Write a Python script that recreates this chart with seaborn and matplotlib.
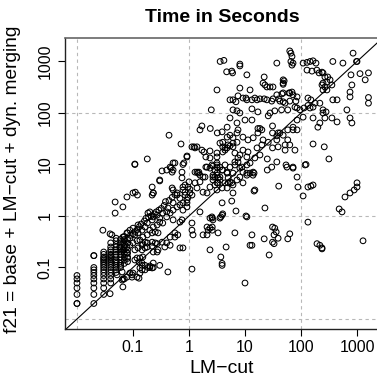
import pandas as pd
import seaborn as sns
import matplotlib.pyplot as plt

# run times in seconds: (LM-cut, f21)
# discrete columns for the very fast tasks (timer resolution 0.01 s)
col_x = [0.01, 0.02, 0.03, 0.04, 0.05, 0.06, 0.07, 0.08]
col_y = [
    [0.02, 0.02, 0.03, 0.04, 0.05, 0.06, 0.07],
    [0.02, 0.03, 0.04, 0.05, 0.06, 0.07, 0.08, 0.09, 0.1, 0.17],
    [0.03, 0.04, 0.05, 0.06, 0.07, 0.08, 0.09, 0.1, 0.11, 0.12, 0.13, 0.14, 0.15, 0.16, 0.18, 0.2],
    [0.05, 0.06, 0.07, 0.08, 0.09, 0.1, 0.11, 0.12, 0.13, 0.14, 0.15, 0.16, 0.17, 0.18, 0.2, 0.22, 0.25, 0.3],
    [0.08, 0.09, 0.1, 0.11, 0.12, 0.13, 0.14, 0.16, 0.18, 0.2, 0.22, 0.25, 0.28, 0.33, 0.37],
    [0.1, 0.11, 0.12, 0.14, 0.16, 0.18, 0.2, 0.22, 0.25, 0.3, 0.35],
    [0.06, 0.12, 0.14, 0.16, 0.19, 0.22, 0.25, 0.28, 0.35, 0.4],
    [0.13, 0.15, 0.19, 0.22, 0.3, 0.47],
]

band_small = [
    (0.066, 0.39), (0.078, 0.47), (0.088, 0.53), (0.1, 0.58), (0.088, 0.37), (0.108, 0.43),
    (0.123, 0.47), (0.145, 0.53), (0.164, 0.61), (0.18, 0.73), (0.185, 1.14), (0.2, 1.2),
    (0.22, 0.84), (0.23, 0.96), (0.27, 1.04), (0.3, 0.91), (0.34, 1.14), (0.4, 1.2),
    (0.42, 1.43), (0.46, 1.14), (0.52, 1.3), (0.61, 1.5), (0.69, 1.64), (0.78, 1.3),
    (0.92, 1.8), (0.27, 0.67), (0.3, 0.76), (0.34, 0.73), (0.123, 0.67), (0.118, 0.33),
    (0.133, 0.34), (0.15, 0.39), (0.18, 0.43), (0.2, 0.53), (0.23, 0.61), (0.25, 0.49),
    (0.145, 0.27), (0.165, 0.31), (0.088, 0.27), (0.1, 0.3), (0.108, 0.22), (0.123, 0.24),
    (0.145, 0.22), (0.164, 0.24), (0.066, 0.3), (0.078, 0.25), (0.058, 0.25), (0.22, 0.47),
    (0.28, 0.47), (0.07, 0.33), (0.08, 0.36), (0.09, 0.42), (0.1, 0.45), (0.11, 0.5),
    (0.12, 0.55), (0.13, 0.62), (0.14, 0.7), (0.16, 0.8), (0.17, 0.9), (0.19, 0.95),
    (0.21, 1.0), (0.24, 1.1), (0.26, 1.2), (0.29, 1.3), (0.32, 1.4), (0.36, 1.6),
    (0.38, 1.9), (0.44, 2.0), (0.5, 2.3), (0.56, 2.6),
    (0.078, 2.34), (0.1, 2.8), (0.048, 1.87), (0.066, 1.5), (0.048, 1.14), (0.029, 0.53),
    (0.042, 0.43), (0.039, 0.45), (0.02, 0.17),
    (0.30, 5.0), (0.22, 3.65), (0.23, 2.8), (0.5, 3.5), (0.61, 2.8), (0.78, 3.2),
    (0.96, 3.65), (1.04, 2.8), (0.69, 2.2), (0.52, 1.8), (0.78, 1.8), (0.92, 2.05), (0.92, 1.5),
]

band_mid = [
    (0.44, 37), (0.72, 25), (0.108, 10), (0.108, 10.2), (0.18, 12.8), (0.33, 7.5), (0.40, 7.8),
    (0.48, 8.5), (0.52, 10.7), (0.5, 7.1), (0.75, 7.1), (0.81, 10.7), (0.92, 14), (0.75, 5.5),
    (0.30, 4.8), (0.11, 2.9), (0.23, 2.8), (0.22, 2.55), (0.12, 2.55), (0.52, 3.2), (0.61, 2.55),
    (0.78, 3.65), (0.85, 2.9), (1.0, 4.6), (1.04, 3.3), (0.96, 2.3),
    (0.46, 8.9), (0.56, 10.7), (0.52, 7.8), (0.78, 10), (0.92, 14.6), (1.23, 22), (1.57, 47),
    (1.39, 7.1), (1.5, 7.1), (2.1, 8.9), (2.57, 9.8), (3.16, 10.7), (1.93, 5.7), (2.68, 5.7), (3.16, 6.8),
    (1.28, 21), (1.13, 22), (1.39, 22), (1.7, 19), (1.85, 17.5), (2.37, 18.3), (2.0, 14),
    (3.16, 16.7), (3.57, 26), (4.0, 22), (4.4, 19), (4.8, 21), (5.4, 23), (6.1, 26), (7.2, 27),
    (3.16, 9.8), (3.57, 8.9), (4.4, 9.8), (5.4, 8.9), (6.6, 11.2), (7.5, 13.4), (8.1, 8.5),
    (1.28, 7.1), (1.45, 6.8), (1.57, 6.2), (1.78, 5.7), (2.0, 8.9), (2.37, 8.5), (2.68, 9.3),
    (2.9, 7.8), (3.16, 6.2), (3.3, 5.5), (3.57, 5.0), (3.9, 7.8), (4.8, 7.1), (5.0, 5.5),
    (5.4, 4.6), (4.4, 4.4), (2.68, 5.0), (2.37, 3.65), (2.9, 4.0), (3.16, 3.2), (3.3, 4.4),
    (3.9, 3.5), (2.1, 2.8), (1.78, 2.9), (1.28, 4.4), (1.39, 3.5), (1.57, 4.6), (0.85, 4.0),
    (0.85, 2.55), (1.13, 2.55), (4.8, 3.5), (6.1, 4.0), (7.2, 5.0), (8.1, 5.7),
    (2.37, 13.4), (3.16, 14), (4.0, 17.5), (4.4, 21), (5.0, 24), (6.1, 22), (6.6, 16.7),
    (8.1, 15.3), (9.2, 19), (11.3, 17.5), (10.8, 14), (7.5, 11.2), (8.8, 8.9), (6.6, 9.8),
    (4.0, 7.8), (3.16, 8.9), (2.68, 6.2), (3.57, 5.7), (4.8, 6.8), (12.3, 10.7), (15, 13.4),
    (18.5, 15.3), (16.4, 21), (20, 24), (21, 30), (26, 27), (31, 21), (37, 30), (39, 22),
    (52, 24), (52, 19), (58, 30), (63, 24), (78, 19), (72, 47), (58, 47), (48, 37), (42, 41),
    (37, 36), (31, 41), (18.5, 50), (17, 41), (14, 33), (11.3, 30), (9.2, 34), (37, 11.2),
    (56, 8.9), (72, 8.9), (85, 5.7), (14, 7.1), (10.8, 6.8), (25, 7.8), (30, 8.9),
    (2.9, 5.7), (3.16, 4.4), (5.0, 4.4), (5.8, 4.4), (9.2, 7.1), (10.8, 6.2), (12.3, 6.8), (14.5, 6.8),
    (6.1, 6.8), (13.9, 6.2), (9.2, 4.4), (15, 3.2), (10.8, 9.8), (6.1, 2.8),
    (118, 9.8), (72, 8.5), (54, 9.8), (25, 12.8), (164, 25), (260, 22), (315, 12.8), (123, 10),
]

band_top = [
    (3.6, 1000), (4.2, 1050), (4.7, 630), (5.8, 650), (6, 600), (8.1, 890), (8.1, 820),
    (10.8, 550), (22, 500), (37, 930), (28, 320), (50, 420), (48, 360), (12.3, 280),
    (7.5, 215), (9.2, 195), (10.8, 180), (13.3, 180), (15, 195), (18.5, 188), (22, 188),
    (30, 170), (42, 170), (52, 155), (63, 170), (81, 170), (48, 245), (61, 245),
    (2.5, 115), (6.1, 115), (7.2, 110), (8.1, 100), (13.3, 120), (17, 105), (26, 88),
    (28, 100), (34, 110), (45, 115), (58, 115), (1.7, 56), (2.4, 50), (3.2, 41), (5.4, 80),
    (7.2, 64), (10, 73), (13.3, 73), (17, 50), (20, 47), (31, 56), (39, 41), (85, 125),
    (4.8, 53), (3.9, 43), (4.0, 27), (4.8, 34), (5.4, 37), (6.1, 33), (7.2, 41), (7.5, 47),
    (63, 1600), (66, 1450), (69, 1250), (66, 1000), (72, 930), (69, 850),
    (22.7, 350), (24.6, 320), (48, 440), (48, 380), (31.6, 320), (37, 225), (45.6, 235),
    (69, 255), (85, 205), (72, 225), (48, 165), (40, 188), (3.16, 280), (8.1, 305), (21, 380),
    (164, 130), (217, 155), (145, 125), (370, 180), (750, 205), (660, 115),
    (5.4, 180), (6.1, 180), (6.9, 165), (10.4, 195), (16.4, 180), (24.6, 180), (31.6, 188),
    (109, 930), (128, 960), (145, 1000), (164, 1030), (185, 930), (128, 680), (157, 650),
    (192, 680), (210, 600), (237, 620), (247, 600), (267, 500), (300, 500), (330, 440),
    (290, 400), (247, 380), (237, 350), (267, 320), (356, 350), (290, 280), (247, 280),
    (370, 1000), (560, 930), (850, 1450), (1000, 1000), (980, 1000), (1400, 440), (1600, 600),
    (780, 550), (810, 350), (750, 255), (1130, 580), (440, 180), (1600, 200), (1600, 155),
    (133, 195), (150, 180), (178, 155), (133, 140), (113, 125), (96, 115), (78, 130), (63, 245),
    (247, 115), (280, 105), (247, 100), (217, 64), (200, 53), (267, 80), (356, 80), (440, 67),
    (750, 80), (810, 64), (109, 83), (164, 80), (85, 73), (85, 47), (72, 53),
]

below_diag = [
    (1000, 4.4), (1000, 3.65), (890, 3.2), (750, 2.8), (610, 2.34), (480, 1.37), (540, 1.2),
    (40, 3.8), (88, 3.65), (150, 3.8), (109, 2.45), (164, 4.0), (133, 3.65), (22.7, 1.43),
    (133, 0.76), (14.5, 3.05), (6.9, 1.25), (5.8, 1.95), (4.0, 1.1), (3.7, 0.96), (10.4, 1.0),
    (10.8, 0.96), (6.6, 0.47), (4.6, 0.25), (3.7, 0.16), (3.9, 0.12), (3.9, 0.11),
    (31, 0.61), (34, 0.58), (36, 0.49), (33, 0.43), (39, 0.37), (31, 0.31), (33, 0.29),
    (22, 0.36), (13.3, 0.43), (12.3, 0.27), (13.3, 0.27), (27, 0.175), (58, 0.36), (63, 0.45),
    (10, 0.05), (1280, 0.33), (193, 0.29), (217, 0.27), (237, 0.24), (237, 0.23),
    (2.37, 0.58), (2.6, 0.53), (2.37, 0.22), (3.9, 1.8), (2.68, 0.84), (2.37, 0.91),
    (2.57, 0.96), (2.1, 0.61), (1.78, 0.43), (3.3, 0.47), (1.57, 1.2),
    (0.4, 0.96), (0.52, 0.84), (0.75, 0.84), (1.13, 0.53), (1.18, 0.43), (3.9, 1.04), (3.57, 0.91),
    (1.13, 0.093), (0.128, 0.062), (0.039, 0.031), (0.2, 0.1), (0.23, 0.1), (0.133, 0.098),
    (0.145, 0.09), (0.096, 0.072), (0.078, 0.065), (0.064, 0.057), (0.63, 0.43), (0.56, 0.39),
    (0.46, 0.27), (0.27, 0.2), (0.33, 0.31), (0.4, 0.3), (1.13, 0.73), (2.1, 0.43),
    (2.6, 0.91), (2.2, 0.53), (2.6, 0.61), (0.69, 0.76),
    (0.18, 0.3), (0.22, 0.31), (0.25, 0.3), (0.37, 0.25), (0.46, 0.39), (0.56, 0.47),
    (0.69, 0.24), (0.78, 0.24), (0.23, 0.2), (0.28, 0.22), (0.42, 0.082), (0.164, 0.09),
    (0.108, 0.14), (0.133, 0.153), (0.145, 0.11), (0.3, 0.11),
    (0.066, 0.22), (0.078, 0.19), (0.08, 0.16), (0.064, 0.082), (0.052, 0.072), (0.066, 0.042),
    (0.096, 0.065), (0.1, 0.078), (0.088, 0.078), (0.118, 0.065), (0.133, 0.078), (0.128, 0.128),
    (0.145, 0.122), (0.164, 0.11), (0.185, 0.1), (0.22, 0.098), (0.2, 0.107), (0.23, 0.122),
    (0.118, 0.153), (0.15, 0.16), (0.15, 0.29), (0.18, 0.25), (0.22, 0.26), (0.27, 0.29),
    (0.066, 0.06),
]

tick_vals = [0.1, 1, 10, 100, 1000]
tick_labels = ['0.1', '1', '10', '100', '1000']
grid_vals = [0.01, 1, 100]

rows = []
for cx, ys in zip(col_x, col_y):
    for cy in ys:
        rows.append((cx, cy))
rows += band_small + band_mid + band_top + below_diag
df = pd.DataFrame(rows, columns=['lmcut', 'f21'])

sns.set_style('white')
plt.rcParams['font.family'] = ['Liberation Sans', 'DejaVu Sans']
plt.rcParams['text.color'] = 'black'
plt.rcParams['xtick.color'] = 'black'
plt.rcParams['ytick.color'] = 'black'

fig = plt.figure(figsize=(3.77, 3.81), dpi=100)
ax = fig.add_axes([0.1724, 0.1365, 0.8355, 0.7638])
ax.set_xscale('log')
ax.set_yscale('log')
ax.set_xlim(10 ** -2.214, 10 ** 3.41)
ax.set_ylim(10 ** -2.194, 10 ** 3.456)

for g in grid_vals:
    ax.axhline(g, color='#b8b8b8', lw=0.8, ls=(0, (3, 3)), zorder=0)
    ax.axvline(g, color='#b8b8b8', lw=0.8, ls=(0, (3, 3)), zorder=0)
ax.axline((0.01, 0.01), (1000, 1000), color='black', lw=0.8, zorder=1)

sns.scatterplot(data=df, x='lmcut', y='f21', ax=ax, marker='o', s=17,
                facecolor='none', edgecolor='black', linewidth=0.75, zorder=2)

ax.set_xticks(tick_vals)
ax.set_xticklabels(tick_labels)
ax.set_yticks(tick_vals)
ax.set_yticklabels(tick_labels, rotation=90, va='center')
ax.minorticks_off()
ax.tick_params(axis='both', length=5, width=0.8, color='black', labelsize=11.5,
               labelcolor='black', direction='out', bottom=True, left=True)
ax.tick_params(axis='x', pad=3)
ax.tick_params(axis='y', pad=4)
ax.set_xlabel('')
ax.set_ylabel('')

for side in ['top', 'right']:
    ax.spines[side].set_color('#666666')
    ax.spines[side].set_linewidth(1.2)
for side in ['left', 'bottom']:
    ax.spines[side].set_color('#222222')
    ax.spines[side].set_linewidth(1.0)

fig.text(0.589, 0.953, 'Time in Seconds', ha='center', va='center',
         fontsize=14, fontweight='bold', color='black')
fig.text(0.589, 0.034, 'LM\u2212cut', ha='center', va='center', fontsize=14,
         color='black')
fig.text(0.032, 0.53, 'f21 = base + LM\u2212cut + dyn. merging', ha='center',
         va='center', rotation=90, fontsize=13.8, color='black')

fig.savefig('out.png', dpi=100)
